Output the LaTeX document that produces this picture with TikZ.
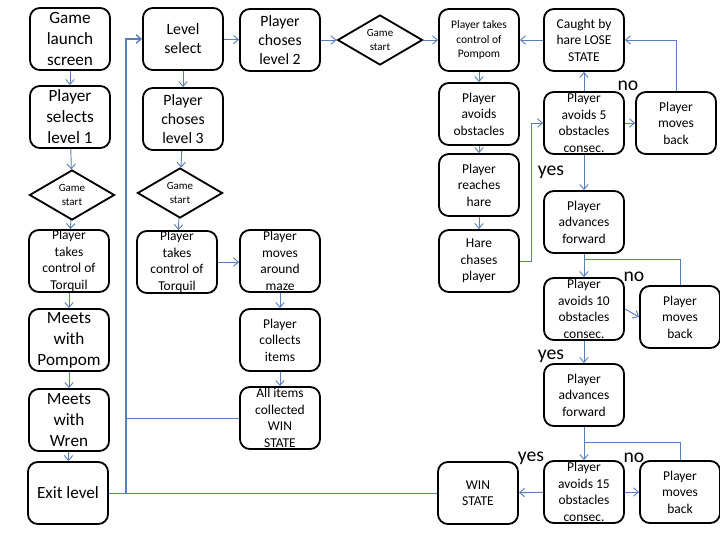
\documentclass[tikz,border=0pt]{standalone}
\usepackage{fontspec}
\setmainfont{Carlito}
\definecolor{lineBlue}{HTML}{5A7FB8}
\usetikzlibrary{arrows.meta, shapes.geometric}

\begin{document}
\begin{tikzpicture}[
    x=0.025cm, y=-0.025cm,
    box/.style={rectangle, rounded corners=7pt, draw, line width=1.3pt, minimum width=2cm, minimum height=1.55cm, inner sep=0pt, align=center, font=\fontsize{9.6}{11.7}\selectfont},
    bigtxt/.style={font=\fontsize{12.2}{14.9}\selectfont},
    midtxt/.style={font=\fontsize{11.2}{13.5}\selectfont},
    smalltxt/.style={font=\fontsize{8.2}{10.3}\selectfont},
    dia/.style={diamond, draw, line width=1.3pt, minimum width=2.125cm, minimum height=1.25cm, inner sep=0pt, align=center, font=\fontsize{7.8}{9.6}\selectfont},
    arr/.style={-{Straight Barb[length=3.5pt,width=6pt]}, lineBlue, line width=0.65pt},
    lnk/.style={lineBlue, line width=0.65pt},
    tag/.style={font=\fontsize{14}{16}\selectfont, inner sep=0pt}
]
\useasboundingbox (0,0) rectangle (720,540);

% Level 1 column
\node[box, bigtxt] (launch) at (70,39) {Game\\launch\\screen};
\node[box, bigtxt] (sel1) at (70,117) {Player\\selects\\level 1};
\node[dia] (gs1) at (72,195) {Game\\start};
\node[box] (tq1) at (69,261) {Player\\takes\\control of\\Torquil};
\node[box, bigtxt] (meetP) at (69,340) {Meets\\with\\Pompom};
\node[box, bigtxt] (meetW) at (69,420) {Meets\\with\\Wren};
\node[box, bigtxt] (exitlv) at (68,493) {Exit level};

% Level 3 column
\node[box, midtxt] (lsel) at (183,39) {Level\\select};
\node[box, midtxt] (ch3) at (183,119) {Player\\choses\\level 3};
\node[dia] (gs2) at (180,193) {Game\\start};
\node[box] (tq2) at (177,262) {Player\\takes\\control of\\Torquil};
\node[box] (maze) at (280,261) {Player\\moves\\around\\maze};
\node[box] (collect) at (280,340) {Player\\collects\\items};
\node[box] (allwin) at (280,418) {All items\\collected\\WIN\\STATE};

% Level 2
\node[box, midtxt] (ch2) at (280,40) {Player\\choses\\level 2};
\node[dia] (gs3) at (380,40) {Game\\start};
\node[box, smalltxt] (pomctl) at (479,40) {Player takes\\control of\\Pompom};
\node[box] (obst) at (479,114) {Player\\avoids\\obstacles};
\node[box] (reach) at (479,185) {Player\\reaches\\hare};
\node[box] (chase) at (479,261) {Hare\\chases\\player};
\node[box] (win) at (478,493) {WIN\\STATE};

% Chase stages
\node[box] (caught) at (584,40) {Caught by\\hare LOSE\\STATE};
\node[box] (av5) at (584,123) {Player\\avoids 5\\obstacles\\consec.};
\node[box] (back1) at (676,123) {Player\\moves\\back};
\node[box] (adv1) at (584,222) {Player\\advances\\forward};
\node[box] (av10) at (584,309) {Player\\avoids 10\\obstacles\\consec.};
\node[box] (back2) at (680,317) {Player\\moves\\back};
\node[box] (adv2) at (584,395) {Player\\advances\\forward};
\node[box] (av15) at (584,492) {Player\\avoids 15\\obstacles\\consec.};
\node[box] (back3) at (680,492) {Player\\moves\\back};

% Labels
\node[tag] (no1) at (628,86) {no};
\node[tag] (yes1) at (551,172) {yes};
\node[tag] (no2) at (634,277) {no};
\node[tag] (yes2) at (551,356) {yes};
\node[tag] (yes3) at (531,458) {yes};
\node[tag] (no3) at (634,458) {no};

% Arrows
\draw[arr] (launch) -- (sel1);
\draw[arr] (sel1) -- (gs1);
\draw[arr] (gs1) -- (tq1);
\draw[arr] (tq1) -- (meetP);
\draw[arr] (meetP) -- (meetW);
\draw[arr] (meetW) -- (exitlv);

\coordinate (bus) at (126,493);
\draw[lnk] (exitlv.east) -- (win.west);
\draw[lnk] (allwin.west) -- (allwin.west -| bus);
\draw[arr, line width=1pt] (bus) |- (lsel.west);

\draw[arr] (lsel) -- (ch2);
\draw[arr] (lsel) -- (ch3);
\draw[arr] (ch3) -- (gs2);
\draw[arr] (gs2) -- (tq2);
\draw[arr] (tq2.east) -- (tq2.east -| maze.west);
\draw[arr] (maze) -- (collect);
\draw[arr] (collect) -- (allwin);

\draw[arr] (ch2) -- (gs3);
\draw[arr] (gs3) -- (pomctl);
\draw[arr] (caught) -- (pomctl);
\draw[arr] (pomctl) -- (obst);
\draw[arr] (obst) -- (reach);
\draw[arr] (reach) -- (chase);
\draw[arr] (chase.east) -- ++(12,0) |- (av5.west);

\draw[arr] (av5) -- (caught);
\draw[arr] (av5) -- (back1);
\draw[arr] (back1.north) |- (caught.east);
\draw[arr] (av5) -- (adv1);
\draw[arr] (adv1) -- (av10);
\draw[lnk] (back2.north) -- ++(0,-26) -| (adv1.south);
\draw[arr] (av10.east) -- (back2.west);
\draw[arr] (av10) -- (adv2);
\draw[arr] (adv2) -- (av15);
\draw[lnk] (back3.north) -- ++(0,-18) -| (adv2.south);
\draw[arr] (av15) -- (back3);
\draw[arr] (av15) -- (win);

\end{tikzpicture}
\end{document}
